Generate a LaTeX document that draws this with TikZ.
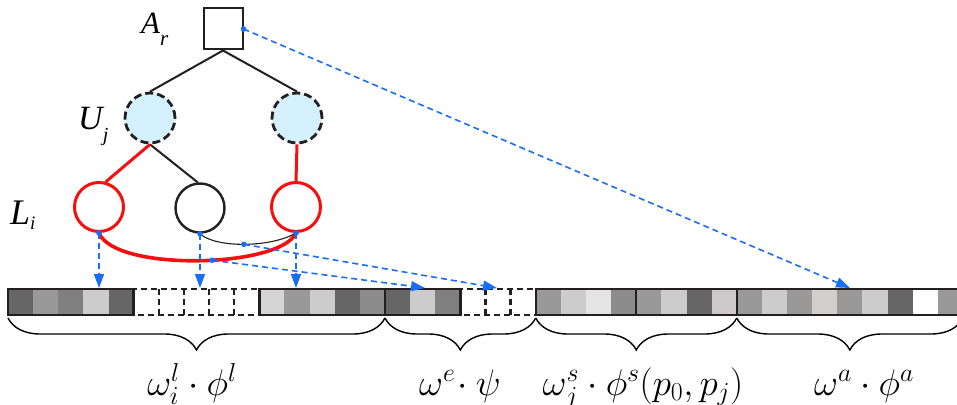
\RequirePackage{fix-cm}
\documentclass[tikz,border=0pt]{standalone}
\usepackage[no-math]{fontspec}
\newfontfamily\tnr{Liberation Serif}
\usetikzlibrary{arrows.meta,decorations.pathreplacing}
\definecolor{ink}{HTML}{231F20}
\definecolor{lblue}{HTML}{D4F0FC}
\definecolor{myred}{HTML}{F70F0F}
\definecolor{myblue}{HTML}{1A6EF5}
\tikzset{
  sqbox/.style={draw=ink, line width=2pt, minimum width=39pt, minimum height=41pt, inner sep=0pt},
  unode/.style={circle, draw=ink, fill=lblue, line width=2.8pt, dash pattern=on 8pt off 4pt, minimum size=50pt, inner sep=0pt},
  rnode/.style={circle, draw=myred, line width=3pt, minimum size=49pt, inner sep=0pt},
  bnode/.style={circle, draw=ink, line width=2.4pt, minimum size=49pt, inner sep=0pt},
  edge/.style={draw=ink, line width=2pt},
  redge/.style={draw=myred, line width=3pt},
  barrow/.style={myblue, line width=1.6pt, dash pattern=on 6pt off 4pt, -{Triangle[length=14pt,width=10pt]}},
  bdot/.style={fill=myblue},
  barline/.style={draw=ink, line width=2.4pt},
  bardash/.style={draw=ink, line width=2.4pt, dash pattern=on 6pt off 4pt},
  brc/.style={draw=black, line width=1.4pt, decorate, decoration={brace, mirror, amplitude=32pt}},
  lbl/.style={inner sep=0pt, font=\tnr\itshape},
  mlbl/.style={inner sep=0pt, anchor=base, font=\fontsize{37}{42}\selectfont},
}
\begin{document}
\begin{tikzpicture}[x=1pt,y=-1pt]
\useasboundingbox (0,0) rectangle (957,404);
\clip (0,0) rectangle (957,404);
% ---- bar cells ----
\def\w{25.13}
\foreach \c [count=\i from 0] in {666666,999999,808080,CCCCCC,666666,
  FFFFFF,FFFFFF,FFFFFF,FFFFFF,FFFFFF,
  D4D4D4,999999,CCCCCC,666666,8C8C8C,
  666666,CCCCCC,808080,
  FFFFFF,FFFFFF,FFFFFF,
  999999,CCCCCC,E4E4E4,8C8C8C,
  999999,CCCCCC,666666,CBC9C9,
  999999,CCCCCC,999999,D3CFCD,999999,CCCCCC,666666,FFFFFF,999999}{
  \definecolor{cellc}{HTML}{\c}
  \fill[cellc] ({8+\i*\w},289) rectangle ({8+(\i+1)*\w},315);
}
% dashed boxes
\draw[bardash] ({8+5*\w},289) rectangle ({8+10*\w},315);
\foreach \k in {6,7,8,9} \draw[bardash] ({8+\k*\w},289) -- ({8+\k*\w},315);
\draw[bardash] ({8+18*\w},289) rectangle ({8+21*\w},315);
\foreach \k in {19,20} \draw[bardash] ({8+\k*\w},289) -- ({8+\k*\w},315);
% solid boxes
\foreach \a/\b in {0/5,10/15,15/18,21/25,25/29,29/38}
  \draw[barline] ({8+\a*\w},289) rectangle ({8+\b*\w},315);
% ---- braces ----
\draw[brc] (8,318) -- ({8+15*\w},318);
\draw[brc] ({8+15*\w},318) -- ({8+21*\w},318);
\draw[brc] ({8+21*\w},318) -- ({8+29*\w},318);
\draw[brc] ({8+29*\w},318) -- ({8+38*\w},318);
% ---- bottom labels ----
\node[mlbl] (m1) at (192,395) {$\omega_i^l\cdot\phi^l$};
\node[mlbl] (m2) at (460,395) {$\omega^e\!\cdot\psi$};
\node[mlbl] (m3) at (643,395) {$\omega_j^s\cdot\phi^s(p_0,p_j)$};
\node[mlbl] (m4) at (864,395) {$\omega^a\cdot\phi^a$};
% ---- tree ----
\node[sqbox] (Ar) at (223,29) {};
\node[unode] (U1) at (150,118) {};
\node[unode] (U2) at (297,118) {};
\node[rnode] (L1) at (99,207) {};
\node[bnode] (L2) at (200,208) {};
\node[rnode] (L3) at (296,207) {};
\draw[edge] (Ar.south) -- (U1.north);
\draw[edge] (Ar.south) -- (U2.north);
\draw[edge] (U1.south) -- (L2.95);
\draw[redge] (U1.south) -- (L1.75);
\draw[redge] (U2.south) -- (L3.north);
\draw[myred, line width=3.6pt] (L1.south) .. controls (115,272) and (280,268) .. coordinate[pos=0.555] (rc) (L3.south);
\draw[ink, line width=1.1pt] (L2.south) .. controls (215,248) and (270,248) .. coordinate[pos=0.5] (bc) (L3.south);
% ---- labels ----
\node[lbl, anchor=base west] (ArL) at (141,34) {\fontsize{31}{31}\selectfont A\raisebox{-12pt}{\fontsize{21}{21}\selectfont r}};
\node[lbl, anchor=base west] (UjL) at (78,129) {\fontsize{34}{34}\selectfont U\raisebox{-12pt}{\fontsize{20}{20}\selectfont j}};
\node[lbl, anchor=base west] (LiL) at (10,224) {\fontsize{36}{36}\selectfont L\raisebox{-5pt}{\fontsize{19}{19}\selectfont i}};
% ---- blue arrows ----
\coordinate (bartop) at (0,288);
\coordinate (ta) at (850,288);
\coordinate (tb) at (497,288);
\coordinate (tc) at (425,288);
\draw[barrow] (L1.south) -- (L1.south |- bartop);
\draw[barrow] (L2.south) -- (L2.south |- bartop);
\draw[barrow] (L3.south) -- (L3.south |- bartop);
\draw[barrow] (bc) -- (tb);
\draw[barrow] (rc) -- (tc);
\draw[barrow] (Ar.east) -- (ta);
\foreach \p in {L1.south,L2.south,L3.south,bc,rc,Ar.east}
  \fill[bdot] (\p) circle (2.8pt);
\end{tikzpicture}
\end{document}
